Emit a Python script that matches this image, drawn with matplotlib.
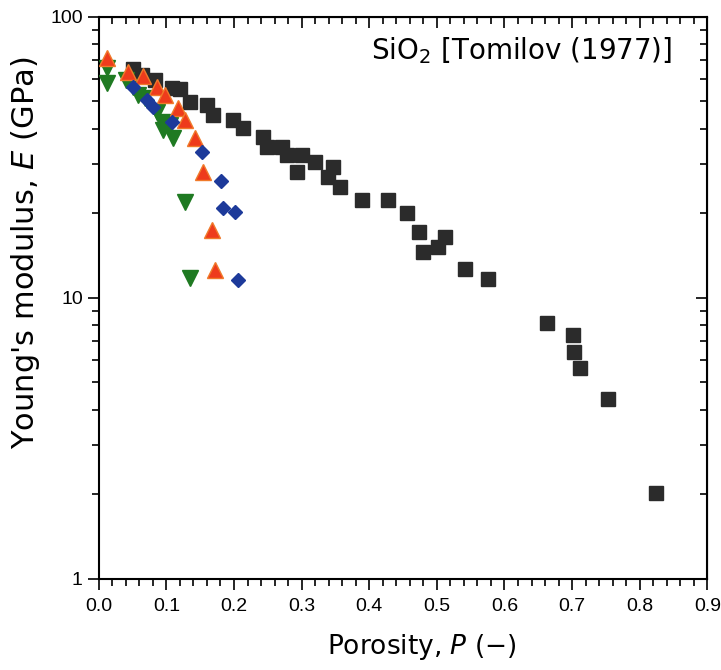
import matplotlib
matplotlib.use("Agg")
import matplotlib.pyplot as plt
import numpy as np
from matplotlib.ticker import MultipleLocator, LogLocator, NullFormatter, FixedFormatter, FixedLocator

plt.rcParams['font.family'] = ['Liberation Sans', 'DejaVu Sans']

# Tomilov (1977) SiO2 data
sq_P = [0.050, 0.064, 0.083, 0.108, 0.120, 0.135, 0.160, 0.169, 0.198, 0.213, 0.243,
        0.249, 0.271, 0.278, 0.300, 0.320, 0.293, 0.346, 0.339, 0.357, 0.389,
        0.428, 0.456, 0.474, 0.480, 0.502, 0.512, 0.542, 0.576, 0.663, 0.702,
        0.703, 0.712, 0.753, 0.824]
sq_E = [65.0, 62.2, 59.7, 55.9, 55.4, 49.8, 48.6, 44.8, 43.0, 40.3, 37.4,
        34.5, 34.5, 32.3, 32.3, 30.5, 28.1, 29.3, 27.0, 24.8, 22.3,
        22.3, 20.1, 17.2, 14.6, 15.2, 16.5, 12.7, 11.7, 8.15, 7.38,
        6.43, 5.63, 4.37, 2.02]

up_P = [0.012, 0.043, 0.065, 0.086, 0.098, 0.117, 0.127, 0.142, 0.154, 0.167, 0.172]
up_E = [71.5, 63.7, 61.7, 56.3, 52.8, 47.5, 43.0, 37.1, 28.1, 17.5, 12.6]

dia_P = [0.050, 0.071, 0.080, 0.108, 0.152, 0.181, 0.184, 0.201, 0.206]
dia_E = [56.3, 50.7, 47.8, 42.3, 33.1, 26.1, 20.9, 20.2, 11.6]

dn_P = [0.012, 0.012, 0.041, 0.050, 0.058, 0.068, 0.086, 0.093, 0.095, 0.105, 0.110, 0.127, 0.135]
dn_E = [65.9, 58.2, 59.7, 56.3, 52.8, 51.5, 45.9, 42.3, 39.6, 41.3, 37.1, 22.0, 11.8]

fig = plt.figure(figsize=(7.21, 6.70), dpi=100)
ax = fig.add_axes([0.137, 0.136, 0.844, 0.839])

ax.plot(sq_P, sq_E, 's', ms=10.5, color='#2b2b2b', mec='#2b2b2b', zorder=2)
ax.plot(dn_P, dn_E, 'v', ms=11, color='#1f7a22', mec='#1f7a22', zorder=3)
ax.plot(up_P, up_E, '^', ms=11, color='#ee3b1c', mec='#f07a2a', mew=1, zorder=4)
ax.plot(dia_P, dia_E, 'D', ms=7.5, color='#1d3a9a', mec='#1d3a9a', zorder=5)

ax.set_yscale('log')
ax.set_xlim(0, 0.9)
ax.set_ylim(1, 100)
ax.xaxis.set_major_locator(MultipleLocator(0.1))
ax.xaxis.set_minor_locator(MultipleLocator(0.02))
ax.xaxis.set_major_formatter(plt.FuncFormatter(lambda v, p: f"{v:.1f}"))
ax.yaxis.set_major_locator(FixedLocator([1, 10, 100]))
ax.yaxis.set_major_formatter(FixedFormatter(['1', '10', '100']))
ax.yaxis.set_minor_locator(LogLocator(base=10, subs=np.arange(2, 10)))
ax.yaxis.set_minor_formatter(NullFormatter())

ax.tick_params(which='both', direction='out', top=False, right=False, labelsize=14, width=1.2)
ax.tick_params(which='major', length=8)
ax.tick_params(which='minor', length=5)
ax.tick_params(axis='x', pad=6)

# top and right spines carry inward ticks without labels
top = ax.secondary_xaxis('top')
top.xaxis.set_major_locator(MultipleLocator(0.1))
top.xaxis.set_minor_locator(MultipleLocator(0.02))
top.tick_params(which='both', direction='in', labeltop=False, width=1.2)
top.tick_params(which='major', length=8)
top.tick_params(which='minor', length=5)

right = ax.secondary_yaxis('right')
right.yaxis.set_major_locator(FixedLocator([1, 10, 100]))
right.yaxis.set_minor_locator(LogLocator(base=10, subs=np.arange(2, 10)))
right.tick_params(which='both', direction='in', labelright=False, width=1.2)
right.tick_params(which='major', length=8)
right.tick_params(which='minor', length=5)

for s in ax.spines.values():
    s.set_linewidth(1.5)

ax.set_xlabel('Porosity, $\\mathit{P}$ (−)', fontsize=19, labelpad=12,
              family='DejaVu Sans', x=0.531)
ax.set_ylabel("Young's modulus, $\\mathit{E}$ (GPa)", fontsize=22, labelpad=6,
              family='DejaVu Sans', y=0.58)
ax.text(0.942, 0.968, 'SiO$_2$ [Tomilov (1977)]', transform=ax.transAxes,
        ha='right', va='top', fontsize=20, family='DejaVu Sans')

fig.savefig('out.png', dpi=100)
